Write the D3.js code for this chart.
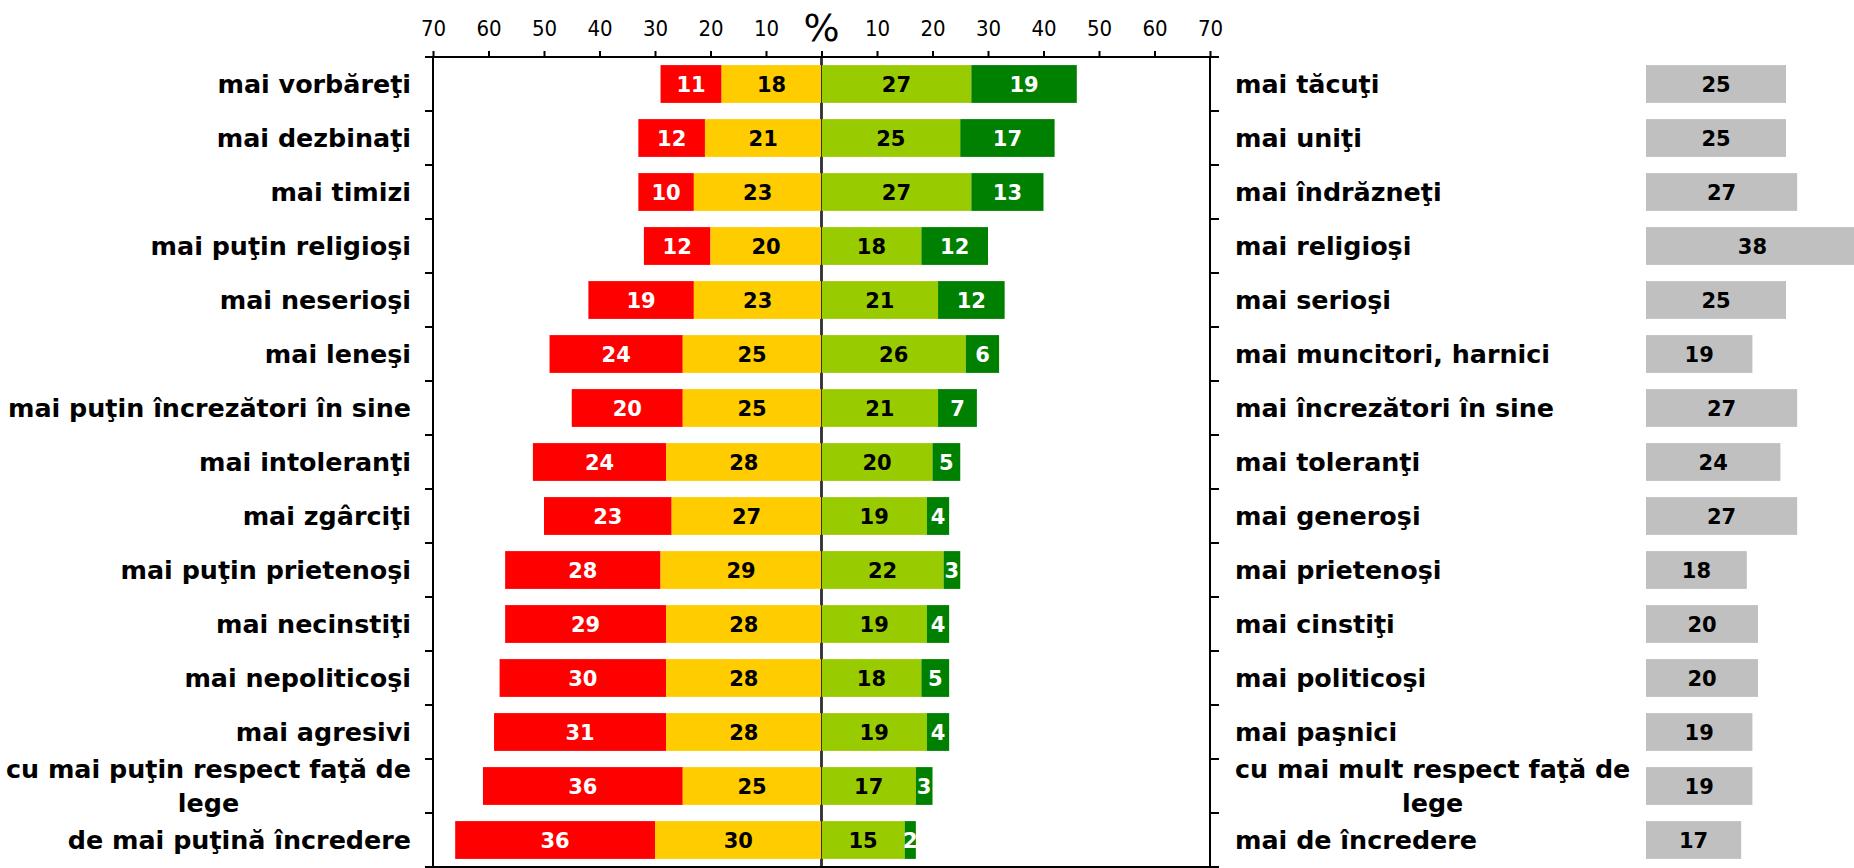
<!DOCTYPE html>
<html lang="ro">
<head>
  <meta charset="UTF-8" />
  <title>Bipolar chart</title>
  <script src="https://d3js.org/d3.v7.min.js"></script>
  <style>
    body {
      margin: 0;
      padding: 0;
      background: #fff;
    }
    svg {
      display: block;
      font-family: "DejaVu Sans", Verdana, sans-serif;
    }
    .cat {
      font-size: 25.4px;
      font-weight: bold;
      fill: #000;
    }
    .val {
      font-size: 21px;
      font-weight: bold;
    }
    .tick-label {
      font-family: "DejaVu Sans Condensed", "DejaVu Sans", sans-serif;
      font-stretch: condensed;
      font-size: 22px;
    }
  </style>
</head>
<body>
  <svg width="1854" height="868"></svg>

  <script>
    // negative side labels (left), positive side labels (right)
    const leftLabels = [
      "mai vorbăreţi", "mai dezbinaţi", "mai timizi", "mai puţin religioşi",
      "mai neserioşi", "mai leneşi", "mai puţin încrezători în sine",
      "mai intoleranţi", "mai zgârciţi", "mai puţin prietenoşi",
      "mai necinstiţi", "mai nepoliticoşi", "mai agresivi",
      "cu mai puţin respect faţă de|lege", "de mai puţină încredere"
    ];
    const rightLabels = [
      "mai tăcuţi", "mai uniţi", "mai îndrăzneţi", "mai religioşi",
      "mai serioşi", "mai muncitori, harnici", "mai încrezători în sine",
      "mai toleranţi", "mai generoşi", "mai prietenoşi",
      "mai cinstiţi", "mai politicoşi", "mai paşnici",
      "cu mai mult respect faţă de|lege", "mai de încredere"
    ];

    const muchLess = [11, 12, 10, 12, 19, 24, 20, 24, 23, 28, 29, 30, 31, 36, 36];
    const less     = [18, 21, 23, 20, 23, 25, 25, 28, 27, 29, 28, 28, 28, 25, 30];
    const more     = [27, 25, 27, 18, 21, 26, 21, 20, 19, 22, 19, 18, 19, 17, 15];
    const muchMore = [19, 17, 13, 12, 12, 6, 7, 5, 4, 3, 4, 5, 4, 3, 2];
    const same     = [25, 25, 27, 38, 25, 19, 27, 24, 27, 18, 20, 20, 19, 19, 17];

    const tickValues = [-70, -60, -50, -40, -30, -20, -10, 0, 10, 20, 30, 40, 50, 60, 70];

    const svg = d3.select("svg");
    const rows = d3.range(leftLabels.length);

    const x = d3.scaleLinear().domain([-70, 70]).range([433, 1210]);
    const xg = d3.scaleLinear().domain([0, 70]).range([1646, 2038]);
    const y = d3.scaleBand().domain(rows).range([57, 867])
      .paddingInner(0.3).paddingOuter(0.15);

    const yTop = 57, yBottom = 867;
    const step = y.step();

    // segments for the diverging bars
    const segs = [];
    rows.forEach(i => {
      const a = muchLess[i], b = less[i], c = more[i], d = muchMore[i];
      segs.push({ i, x0: -(a + b), x1: -b, v: a, fill: "#FF0000", text: "#fff" });
      segs.push({ i, x0: -b, x1: 0, v: b, fill: "#FFCC00", text: "#000" });
      segs.push({ i, x0: 0, x1: c, v: c, fill: "#99CC00", text: "#000" });
      segs.push({ i, x0: c, x1: c + d, v: d, fill: "#008000", text: "#fff" });
    });

    // zero line behind the bars
    svg.append("line")
      .attr("x1", x(0)).attr("x2", x(0))
      .attr("y1", yTop).attr("y2", yBottom)
      .attr("stroke", "#000").attr("stroke-width", 2.5);

    svg.selectAll("rect.seg")
      .data(segs)
      .enter().append("rect")
      .attr("class", "seg")
      .attr("x", d => x(d.x0))
      .attr("y", d => y(d.i))
      .attr("width", d => x(d.x1) - x(d.x0))
      .attr("height", y.bandwidth())
      .attr("fill", d => d.fill);

    svg.append("line")
      .attr("x1", x(0)).attr("x2", x(0))
      .attr("y1", yTop).attr("y2", yBottom)
      .attr("stroke", "#333").attr("stroke-width", 1);

    svg.selectAll("text.val")
      .data(segs)
      .enter().append("text")
      .attr("class", "val")
      .attr("x", d => (x(d.x0) + x(d.x1)) / 2)
      .attr("y", d => y(d.i) + y.bandwidth() / 2)
      .attr("dy", "0.36em")
      .attr("text-anchor", "middle")
      .attr("fill", d => d.text)
      .text(d => d.v);

    // top axis
    const axis = d3.axisTop(x)
      .tickValues(tickValues)
      .tickSize(6)
      .tickPadding(15)
      .tickFormat(d => d === 0 ? "" : Math.abs(d));

    const gAxis = svg.append("g")
      .attr("transform", `translate(0,${yTop})`)
      .call(axis);
    gAxis.select(".domain").remove();
    gAxis.selectAll(".tick line").attr("stroke", "#000").attr("stroke-width", 2);
    gAxis.selectAll(".tick text")
      .attr("class", "tick-label")
      .attr("fill", "#000");
    gAxis.attr("font-family", null).attr("font-size", null);

    svg.append("text")
      .attr("x", x(0))
      .attr("y", 41)
      .attr("text-anchor", "middle")
      .attr("font-size", 38)
      .text("%");

    // frame with outward ticks on left and right sides
    const frame = svg.append("g")
      .attr("stroke", "#000")
      .attr("stroke-width", 2)
      .attr("fill", "none");

    frame.append("line").attr("x1", x(-70) - 8).attr("x2", x(70) + 9).attr("y1", yTop).attr("y2", yTop);
    frame.append("line").attr("x1", x(-70) - 8).attr("x2", x(70) + 9).attr("y1", yBottom).attr("y2", yBottom);
    frame.append("line").attr("x1", x(-70)).attr("x2", x(-70)).attr("y1", yTop).attr("y2", yBottom);
    frame.append("line").attr("x1", x(70)).attr("x2", x(70)).attr("y1", yTop).attr("y2", yBottom);

    const boundaries = d3.range(1, rows.length).map(k => yTop + k * step);
    frame.selectAll("line.lt")
      .data(boundaries)
      .enter().append("line")
      .attr("x1", x(-70) - 8).attr("x2", x(-70))
      .attr("y1", d => d).attr("y2", d => d);
    frame.selectAll("line.rt")
      .data(boundaries)
      .enter().append("line")
      .attr("x1", x(70)).attr("x2", x(70) + 9)
      .attr("y1", d => d).attr("y2", d => d);

    // category labels; a "|" marks a line break, lines centred on each other
    function drawLabel(str, i, xPos, side) {
      const parts = str.split("|");
      const cy = y(i) + y.bandwidth() / 2;
      if (parts.length === 1) {
        svg.append("text")
          .attr("class", "cat")
          .attr("x", xPos)
          .attr("y", cy)
          .attr("dy", "0.36em")
          .attr("text-anchor", side === "left" ? "end" : "start")
          .text(parts[0]);
        return;
      }
      const t = svg.append("text")
        .attr("class", "cat")
        .attr("text-anchor", "middle");
      const first = t.append("tspan").attr("y", cy - 17).attr("dy", "0.36em").text(parts[0]);
      const w = first.node().getComputedTextLength();
      const cx = side === "left" ? xPos - w / 2 : xPos + w / 2;
      first.attr("x", cx);
      t.append("tspan").attr("x", cx).attr("y", cy + 17).attr("dy", "0.36em").text(parts[1]);
    }

    leftLabels.forEach((s, i) => drawLabel(s, i, 411, "left"));
    rightLabels.forEach((s, i) => drawLabel(s, i, 1235, "right"));

    // grey bars on the far right
    svg.selectAll("rect.same")
      .data(rows)
      .enter().append("rect")
      .attr("class", "same")
      .attr("x", xg(0))
      .attr("y", i => y(i))
      .attr("width", i => xg(same[i]) - xg(0))
      .attr("height", y.bandwidth())
      .attr("fill", "#C0C0C0");

    svg.selectAll("text.same")
      .data(rows)
      .enter().append("text")
      .attr("class", "val")
      .attr("x", i => (xg(0) + xg(same[i])) / 2)
      .attr("y", i => y(i) + y.bandwidth() / 2)
      .attr("dy", "0.36em")
      .attr("text-anchor", "middle")
      .attr("fill", "#000")
      .text(i => same[i]);
  </script>
</body>
</html>
